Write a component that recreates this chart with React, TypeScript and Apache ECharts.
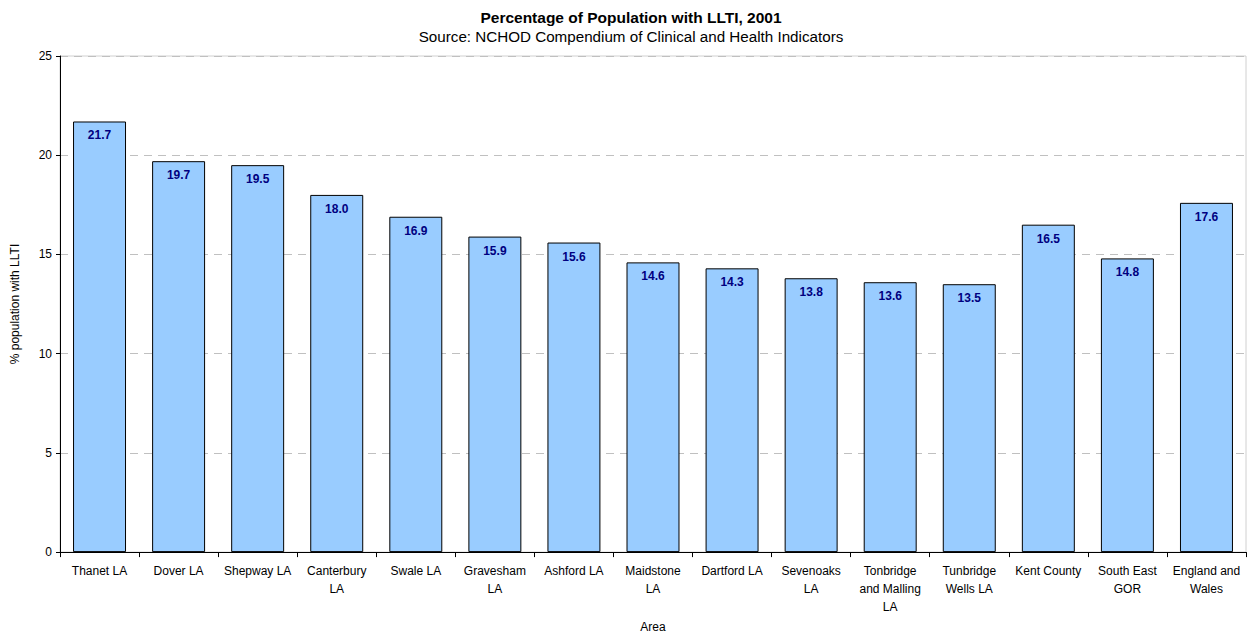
import React, { useEffect, useRef } from "react";
import * as echarts from "echarts";

const categories = [
  "Thanet LA",
  "Dover LA",
  "Shepway LA",
  "Canterbury\nLA",
  "Swale LA",
  "Gravesham\nLA",
  "Ashford LA",
  "Maidstone\nLA",
  "Dartford LA",
  "Sevenoaks\nLA",
  "Tonbridge\nand Malling\nLA",
  "Tunbridge\nWells LA",
  "Kent County",
  "South East\nGOR",
  "England and\nWales",
];
const values = [21.7, 19.7, 19.5, 18.0, 16.9, 15.9, 15.6, 14.6, 14.3, 13.8, 13.6, 13.5, 16.5, 14.8, 17.6];

const titleText = "Percentage of Population with LLTI, 2001";
const subtitleText = "Source: NCHOD Compendium of Clinical and Health Indicators";
const yAxisName = "% population with LLTI";
const xAxisName = "Area";

export default function App() {
  const ref = useRef<HTMLDivElement>(null);
  useEffect(() => {
    if (!ref.current) return;
    const chart = echarts.init(ref.current, undefined, { renderer: "svg" });
    const font = "Arial, 'Liberation Sans', sans-serif";
    chart.setOption({
      animation: false,
      backgroundColor: "#ffffff",
      textStyle: { fontFamily: font },
      title: {
        text: titleText,
        subtext: subtitleText,
        left: 626,
        textAlign: "center",
        top: 4,
        itemGap: 4,
        textStyle: { fontFamily: font, fontSize: 15.5, fontWeight: "bold", color: "#000" },
        subtextStyle: { fontFamily: font, fontSize: 15.2, color: "#000" },
      },
      grid: { left: 60, right: 6, top: 56, bottom: 82, show: true, borderColor: "#d0d0d0", borderWidth: 1 },
      xAxis: {
        type: "category",
        data: categories,
        name: xAxisName,
        nameLocation: "middle",
        nameGap: 66,
        nameTextStyle: { fontFamily: font, fontSize: 12, color: "#000" },
        axisLine: { lineStyle: { color: "#000", width: 1 } },
        axisTick: { show: true, alignWithLabel: false, length: 5, lineStyle: { color: "#000" } },
        axisLabel: {
          interval: 0,
          fontFamily: font,
          fontSize: 12,
          color: "#000",
          lineHeight: 18,
          margin: 10,
        },
      },
      yAxis: {
        type: "value",
        min: 0,
        max: 25,
        interval: 5,
        name: yAxisName,
        nameLocation: "middle",
        nameGap: 39,
        nameTextStyle: { fontFamily: font, fontSize: 12, color: "#000" },
        axisLine: { show: true, lineStyle: { color: "#000", width: 1 } },
        axisTick: { show: true, inside: false, length: 4, lineStyle: { color: "#000" } },
        axisLabel: { fontFamily: font, fontSize: 12, color: "#000", margin: 8 },
        splitLine: { show: true, lineStyle: { color: "#c0c0c0", type: [8, 6], width: 1 } },
      },
      series: [
        {
          type: "bar",
          data: values,
          barCategoryGap: "33%",
          itemStyle: { color: "#99CCFF", borderColor: "#000", borderWidth: 1 },
          label: {
            show: true,
            position: "insideTop",
            distance: 8,
            formatter: (p: any) => Number(p.value).toFixed(1),
            fontFamily: font,
            fontSize: 12,
            fontWeight: "bold",
            color: "#000080",
          },
        },
      ],
    });
    return () => chart.dispose();
  }, []);
  return (
    <div
      ref={ref}
      style={{ position: "absolute", left: 0, top: 0, width: 1252, height: 638, background: "#fff" }}
    />
  );
}
